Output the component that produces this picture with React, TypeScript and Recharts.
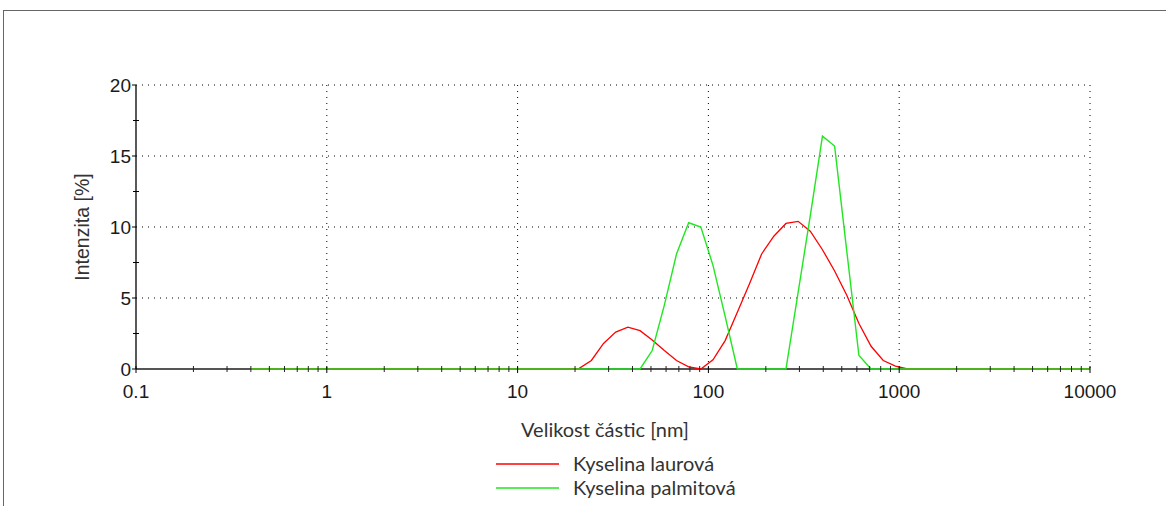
import React from 'react';
import { LineChart, Line, XAxis, YAxis, CartesianGrid, Legend, ReferenceLine } from 'recharts';

// Size classes of the distribution [nm]
const sizes = [
  0.4, 0.4632, 0.5365, 0.6213, 0.7195, 0.8332, 0.965, 1.117, 1.294, 1.499,
  1.736, 2.01, 2.328, 2.696, 3.122, 3.615, 4.187, 4.849, 5.615, 6.503,
  7.531, 8.721, 10.1, 11.7, 13.54, 15.69, 18.17, 21.04, 24.36, 28.21,
  32.67, 37.84, 43.82, 50.75, 58.77, 68.06, 78.82, 91.28, 105.7, 122.4,
  141.8, 164.2, 190.1, 220.2, 255.0, 295.3, 342.0, 396.1, 458.7, 531.2,
  615.1, 712.4, 825.0, 955.4, 1106, 1281, 1484, 1718, 1990, 2305,
  2669, 3091, 3580, 4145, 4801, 5560, 6439, 7456, 8635, 10000,
];

// Intensity [%] – lauric acid
const laurova = [
  0, 0, 0, 0, 0, 0, 0, 0, 0, 0,
  0, 0, 0, 0, 0, 0, 0, 0, 0, 0,
  0, 0, 0, 0, 0, 0, 0, 0.05, 0.6, 1.8,
  2.6, 2.95, 2.7, 2.05, 1.3, 0.6, 0.15, 0, 0.65, 2.0,
  4.0, 6.0, 8.1, 9.35, 10.25, 10.4, 9.7, 8.4, 6.9, 5.2,
  3.2, 1.6, 0.6, 0.2, 0, 0, 0, 0, 0, 0,
  0, 0, 0, 0, 0, 0, 0, 0, 0, 0,
];

// Intensity [%] – palmitic acid
const palmitova = [
  0, 0, 0, 0, 0, 0, 0, 0, 0, 0,
  0, 0, 0, 0, 0, 0, 0, 0, 0, 0,
  0, 0, 0, 0, 0, 0, 0, 0, 0, 0,
  0, 0, 0, 1.3, 4.5, 8.1, 10.3, 10.0, 7.3, 3.7,
  0, 0, 0, 0, 0, 5.4, 10.8, 16.4, 15.7, 8.3,
  0.95, 0, 0, 0, 0, 0, 0, 0, 0, 0,
  0, 0, 0, 0, 0, 0, 0, 0, 0, 0,
];

const xMajorTicks = [0.1, 1, 10, 100, 1000, 10000];
const xMinorTicks = [
  0.2, 0.3, 0.4, 0.5, 0.6, 0.7, 0.8, 0.9,
  2, 3, 4, 5, 6, 7, 8, 9,
  20, 30, 40, 50, 60, 70, 80, 90,
  200, 300, 400, 500, 600, 700, 800, 900,
  2000, 3000, 4000, 5000, 6000, 7000, 8000, 9000,
];
const yMajorTicks = [0, 5, 10, 15, 20];
const yMinorTicks = [2.5, 7.5, 12.5, 17.5];

const data = sizes.map((size, i) => ({
  size,
  laurova: laurova[i],
  palmitova: palmitova[i],
}));

const RED = '#ff0000';
const GREEN = '#22e622';
const TICK_FONT = '"Liberation Sans", Arial, sans-serif';
const LABEL_FONT = 'Lato, "Open Sans", sans-serif';

const XTick = (props: any) => {
  const { x, y, payload } = props;
  const v = payload.value;
  const major = xMajorTicks.includes(v);
  if (!major) {
    return <line x1={x} x2={x} y1={y - 3} y2={y + 3} stroke="#222" strokeWidth={1} />;
  }
  return (
    <g>
      <line x1={x} x2={x} y1={y - 3} y2={y + 4} stroke="#000" strokeWidth={1} />
      <text x={x} y={y + 29} textAnchor="middle" fontSize={19} fontFamily={TICK_FONT} fill="#1a1a1a">
        {String(v)}
      </text>
    </g>
  );
};

const YTick = (props: any) => {
  const { x, y, payload } = props;
  const v = payload.value;
  const major = yMajorTicks.includes(v);
  if (!major) {
    return <line x1={x - 3} x2={x + 3} y1={y} y2={y} stroke="#000" strokeWidth={1} />;
  }
  return (
    <g>
      <line x1={x - 4} x2={x} y1={y} y2={y} stroke="#000" strokeWidth={1} />
      <text x={x - 5} y={y + 6.5} textAnchor="end" fontSize={19} fontFamily={TICK_FONT} fill="#1a1a1a">
        {String(v)}
      </text>
    </g>
  );
};

const LegendContent = (props: any) => {
  const items = props.payload || [];
  return (
    <div>
      {items.map((item: any) => (
        <div key={item.value} style={{ display: 'flex', alignItems: 'center', height: 24 }}>
          <svg width={63} height={24} style={{ display: 'block' }}>
            <line x1={0} x2={63} y1={13} y2={13} stroke={item.color} strokeWidth={1.3} />
          </svg>
          <span
            style={{
              marginLeft: 14,
              fontFamily: LABEL_FONT,
              fontSize: 20,
              color: '#333',
              whiteSpace: 'nowrap',
              lineHeight: '24px',
            }}
          >
            {item.value}
          </span>
        </div>
      ))}
    </div>
  );
};

export default function App() {
  return (
    <div style={{ position: 'absolute', left: 0, top: 0, width: 1166, height: 506, background: '#fff' }}>
      <div
        style={{
          position: 'absolute',
          left: 3,
          top: 10,
          width: 1163,
          height: 496,
          borderTop: '1px solid #666',
          borderLeft: '1px solid #666',
          boxSizing: 'border-box',
        }}
      />
      <div style={{ position: 'absolute', left: 0, top: 0 }}>
        <LineChart
          width={1166}
          height={506}
          data={data}
          margin={{ top: 85, right: 76, bottom: 97, left: 76 }}
        >
          <CartesianGrid
            horizontal
            vertical
            horizontalValues={[5, 10, 15, 20]}
            verticalValues={[1, 10, 100, 1000, 10000]}
            stroke="#000"
            strokeWidth={1}
            strokeDasharray="1 5"
          />
          {/* grey baseline drawn beneath the curves */}
          <ReferenceLine y={0} stroke="#555" strokeWidth={2} zIndex={350} />
          <Line
            name="Kyselina laurová"
            dataKey="laurova"
            type="linear"
            stroke={RED}
            strokeWidth={1.3}
            dot={false}
            activeDot={false}
            isAnimationActive={false}
            zIndex={400}
          />
          <Line
            name="Kyselina palmitová"
            dataKey="palmitova"
            type="linear"
            stroke={GREEN}
            strokeWidth={1.4}
            dot={false}
            activeDot={false}
            isAnimationActive={false}
            zIndex={410}
          />
          <XAxis
            dataKey="size"
            type="number"
            scale="log"
            domain={[0.1, 10000]}
            ticks={[...xMajorTicks, ...xMinorTicks]}
            interval={0}
            tickSize={0}
            tickMargin={0}
            tickLine={false}
            tick={<XTick />}
            axisLine={false}
            height={40}
            label={{
              value: 'Velikost částic [nm]',
              position: 'bottom',
              offset: 14,
              dx: -8,
              style: { fontFamily: LABEL_FONT, fontSize: 20, fill: '#333' },
            }}
          />
          <YAxis
            type="number"
            domain={[0, 20]}
            ticks={[...yMajorTicks, ...yMinorTicks]}
            interval={0}
            tickSize={0}
            tickMargin={0}
            tickLine={false}
            tick={<YTick />}
            axisLine={{ stroke: '#000', strokeWidth: 1.3 }}
            width={60}
            label={{
              value: 'Intenzita [%]',
              angle: -90,
              position: 'insideLeft',
              offset: 6,
              style: { textAnchor: 'middle', fontFamily: TICK_FONT, fontSize: 19.5, fill: '#333' },
            }}
          />
          <Legend
            layout="vertical"
            align="center"
            verticalAlign="middle"
            content={<LegendContent />}
            wrapperStyle={{ left: 496, top: 451, width: 280, height: 48 }}
          />
        </LineChart>
      </div>
    </div>
  );
}
